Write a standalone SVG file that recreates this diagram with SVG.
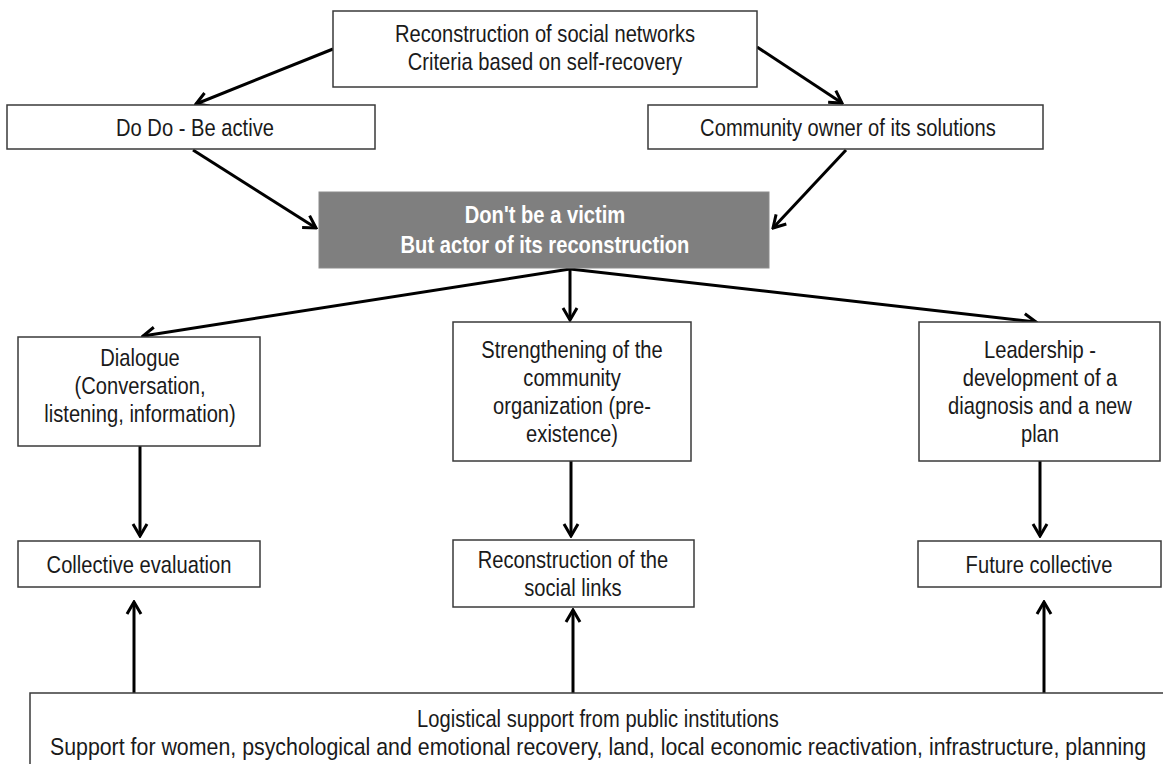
<svg xmlns="http://www.w3.org/2000/svg" width="1163" height="764" viewBox="0 0 1163 764">
<defs>
<style>
.box{fill:#fff;stroke:#3a3a3a;stroke-width:1.5}
.dark{fill:#7f7f7f;stroke:#8c8c8c;stroke-width:1}
.t{font-family:"Liberation Sans",Arial,sans-serif;font-size:24px;fill:#1a1a1a;text-anchor:middle}
.tb{font-family:"Liberation Sans",Arial,sans-serif;font-size:24px;font-weight:bold;fill:#fff;text-anchor:middle}
.c{stroke:#000;stroke-width:3;fill:none;marker-end:url(#ah)}
</style>
<marker id="ah" markerUnits="userSpaceOnUse" viewBox="-14 -9 16 18" markerWidth="16" markerHeight="18" refX="0" refY="0" orient="auto">
<path d="M-12,-7 L0,0 L-12,7" fill="none" stroke="#000" stroke-width="3"/>
</marker>
</defs>
<rect width="1163" height="764" fill="#fff"/>
<g id="connectors">
<line class="c" x1="333" y1="49" x2="196" y2="104"/>
<line class="c" x1="757" y1="47" x2="842" y2="103"/>
<line class="c" x1="193" y1="150" x2="316" y2="228"/>
<line class="c" x1="846" y1="150" x2="773" y2="228"/>
<line class="c" x1="570" y1="268" x2="570" y2="320"/>
<line class="c" x1="570" y1="269" x2="143" y2="336"/>
<line class="c" x1="570" y1="269" x2="1036" y2="322"/>
<line class="c" x1="140" y1="446" x2="140" y2="536"/>
<line class="c" x1="571" y1="461" x2="571" y2="536"/>
<line class="c" x1="1040" y1="461" x2="1040" y2="536"/>
<line class="c" x1="134" y1="693" x2="134" y2="602"/>
<line class="c" x1="573" y1="693" x2="573" y2="610"/>
<line class="c" x1="1044" y1="693" x2="1044" y2="602"/>
</g>
<g id="top">
<rect class="box" x="333" y="11" width="424" height="76"/>
<g transform="scale(0.84 1)">
<text class="t" x="648.8" y="42">Reconstruction of social networks</text>
<text class="t" x="648.8" y="70">Criteria  based on self-recovery</text>
</g>
</g>
<g id="dodo">
<rect class="box" x="7" y="105" width="368" height="44"/>
<text class="t" x="232.1" y="136" transform="scale(0.84 1)">Do Do - Be active</text>
</g>
<g id="community">
<rect class="box" x="648" y="105" width="395" height="44"/>
<text class="t" x="1009.5" y="136" transform="scale(0.84 1)">Community owner of its  solutions</text>
</g>
<g id="victim">
<rect class="dark" x="319" y="192" width="450" height="76"/>
<g transform="scale(0.84 1)">
<text class="tb" x="648.8" y="223">Don't be a victim</text>
<text class="tb" x="648.8" y="253">But actor of its  reconstruction</text>
</g>
</g>
<g id="dialogue">
<rect class="box" x="18" y="337" width="242" height="109"/>
<g transform="scale(0.84 1)">
<text class="t" x="166.7" y="366">Dialogue</text>
<text class="t" x="166.7" y="394">(Conversation,</text>
<text class="t" x="166.7" y="422">listening, information)</text>
</g>
</g>
<g id="strengthening">
<rect class="box" x="453" y="322" width="238" height="139"/>
<g transform="scale(0.84 1)">
<text class="t" x="681" y="358">Strengthening of the</text>
<text class="t" x="681" y="386">community</text>
<text class="t" x="681" y="414">organization (pre-</text>
<text class="t" x="681" y="442">existence)</text>
</g>
</g>
<g id="leadership">
<rect class="box" x="919" y="322" width="241" height="139"/>
<g transform="scale(0.84 1)">
<text class="t" x="1238.1" y="358">Leadership -</text>
<text class="t" x="1238.1" y="386">development of a</text>
<text class="t" x="1238.1" y="414">diagnosis and a new</text>
<text class="t" x="1238.1" y="442">plan</text>
</g>
</g>
<g id="collective-evaluation">
<rect class="box" x="18" y="541" width="242" height="46"/>
<text class="t" x="165.5" y="573" transform="scale(0.84 1)">Collective evaluation</text>
</g>
<g id="reconstruction-links">
<rect class="box" x="453" y="540" width="241" height="67"/>
<g transform="scale(0.84 1)">
<text class="t" x="682.1" y="568">Reconstruction of the</text>
<text class="t" x="682.1" y="596">social links</text>
</g>
</g>
<g id="future-collective">
<rect class="box" x="918" y="541" width="243" height="46"/>
<text class="t" x="1236.9" y="573" transform="scale(0.84 1)">Future collective</text>
</g>
<g id="support">
<rect class="box" x="30" y="693" width="1150" height="90"/>
<g transform="scale(0.84 1)">
<text class="t" x="711.9" y="727">Logistical support from  public institutions</text>
<text class="t" x="711.9" y="755" textLength="1305" lengthAdjust="spacingAndGlyphs">Support for women, psychological and emotional recovery, land, local economic reactivation, infrastructure,  planning</text>
</g>
</g>
</svg>
